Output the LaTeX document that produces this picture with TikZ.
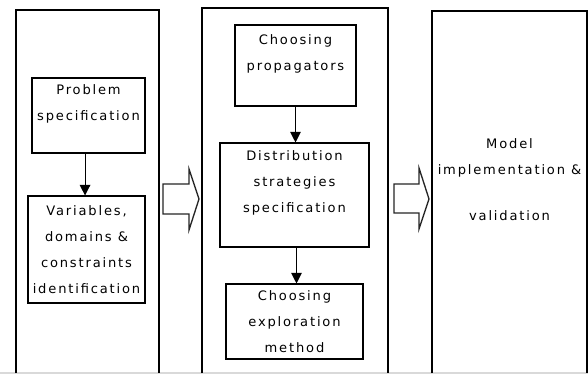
\documentclass[tikz,border=0pt]{standalone}
\usepackage{fontspec}
\setmainfont{DejaVu Sans}[LetterSpace=14]
\usetikzlibrary{arrows.meta}
\tikzset{
  frame/.style={line width=1pt, draw=black},
  box/.style={draw=black, line width=0.8pt, rectangle, inner sep=0pt, align=center,
    font=\fontsize{9.8}{19.5}\selectfont},
  txt/.style={inner sep=0pt, align=center, font=\fontsize{9.8}{19.5}\selectfont},
  arr/.style={line width=0.8pt, -{Triangle[length=8pt,width=8pt]}},
  hollow/.style={draw=black!85, line width=1pt, fill=white, line join=miter}
}
\begin{document}
\begin{tikzpicture}[x=0.75pt,y=-0.75pt]
\useasboundingbox (0,0) rectangle (588,374);
\fill[white] (0,0) rectangle (588,374);
% bottom edge
\draw[black!15, line width=1pt] (0,373) -- (588,373);
% frames
\draw[frame] (16,373) -- (16,10) -- (159,10) -- (159,373);
\draw[frame] (202,373) -- (202,8) -- (388,8) -- (388,373);
\draw[frame] (432,373) -- (432,11) -- (587,11) -- (587,373);
% left column
\node[box, minimum width=84.75pt, minimum height=56.25pt] (ps) at (88.5,115.5)
  {Problem\\specification\\ \mbox{}};
\node[box, minimum width=87.75pt, minimum height=80.25pt] (vd) at (86.5,249.5)
  {Variables,\\domains \&\\constraints\\identification};
% middle column
\node[box, minimum width=90.75pt, minimum height=60.75pt] (cp) at (295.5,65.5)
  {Choosing\\propagators\\ \mbox{}};
\node[box, minimum width=111.75pt, minimum height=78pt] (ds) at (294.5,195)
  {Distribution\\strategies\\specification\\ \mbox{}};
\node[box, minimum width=102.75pt, minimum height=56.25pt] (ce) at (294.5,321.5)
  {Choosing\\exploration\\method};
% right column
\node[txt] (mi) at (509.5,180) {Model\\implementation \&\\[15pt]validation};
% vertical arrows
\draw[arr] ([xshift=-2.6pt]ps.south) -- ([xshift=-2.6pt]ps.south |- vd.north);
\draw[arr] (cp.south) -- (cp.south |- ds.north);
\draw[arr] ([xshift=1.5pt]ds.south) -- ([xshift=1.5pt]ds.south |- ce.north);
% hollow block arrows
\draw[hollow] (163,184) -- (189,184) -- (189,169) -- (199,199) -- (189,230) -- (189,214) -- (163,214) -- cycle;
\draw[hollow] (394,184) -- (419,184) -- (419,168) -- (429,199) -- (419,229) -- (419,213) -- (394,213) -- cycle;
\end{tikzpicture}
\end{document}
